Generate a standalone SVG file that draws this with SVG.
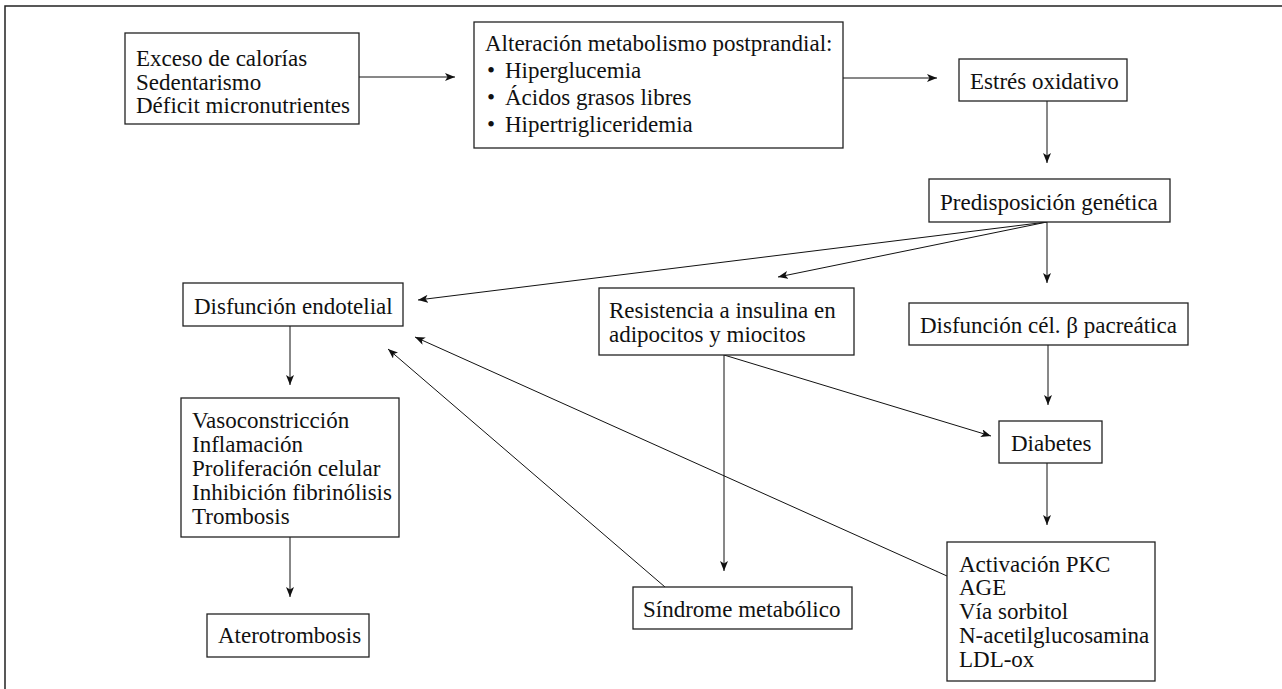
<svg xmlns="http://www.w3.org/2000/svg" width="1282" height="689" viewBox="0 0 1282 689">
<defs>
<style>
.box{fill:#fff;stroke:#222;stroke-width:1.3}
.t{font-family:"Liberation Serif","Times New Roman",serif;font-size:23px;fill:#111}
.c{stroke:#111;stroke-width:1;fill:none}
.a{marker-end:url(#ah)}
</style>
<marker id="ah" viewBox="0 0 10 8" refX="10" refY="4" markerWidth="10" markerHeight="8" markerUnits="userSpaceOnUse" orient="auto">
<path d="M0,0 L10,4 L0,8 L2.5,4 Z" fill="#111"/>
</marker>
</defs>
<rect width="1282" height="689" fill="#fff"/>
<path d="M5,689 V6 H1282" fill="none" stroke="#222" stroke-width="1.5"/>

<g id="connectors">
<line class="c a" x1="359" y1="77" x2="455" y2="77"/>
<line class="c a" x1="843" y1="78" x2="937" y2="78"/>
<line class="c a" x1="1047" y1="101" x2="1047" y2="163"/>
<line class="c a" x1="1047" y1="222" x2="418" y2="300"/>
<line class="c a" x1="1047" y1="222" x2="778" y2="277"/>
<line class="c a" x1="1047" y1="222" x2="1047" y2="283"/>
<line class="c a" x1="290" y1="326" x2="290" y2="385"/>
<line class="c a" x1="724" y1="355" x2="724" y2="571"/>
<line class="c a" x1="724" y1="355" x2="991" y2="436"/>
<line class="c a" x1="1048" y1="345" x2="1048" y2="405"/>
<line class="c a" x1="1047" y1="463" x2="1047" y2="525"/>
<line class="c a" x1="290" y1="537" x2="290" y2="597"/>
<line class="c a" x1="947" y1="576" x2="415" y2="337"/>
<line class="c a" x1="665" y1="587" x2="388" y2="349"/>
</g>

<g id="n-exceso">
<rect class="box" x="125" y="33" width="234" height="91"/>
<text class="t" x="136" y="66">Exceso de calorías</text>
<text class="t" x="136" y="90">Sedentarismo</text>
<text class="t" x="136" y="113">Déficit micronutrientes</text>
</g>

<g id="n-alteracion">
<rect class="box" x="474" y="22" width="369" height="126"/>
<text class="t" x="485" y="51">Alteración metabolismo postprandial:</text>
<text class="t" x="487" y="78">•</text><text class="t" x="505" y="78">Hiperglucemia</text>
<text class="t" x="487" y="105">•</text><text class="t" x="505" y="105">Ácidos grasos libres</text>
<text class="t" x="487" y="132">•</text><text class="t" x="505" y="132">Hipertrigliceridemia</text>
</g>

<g id="n-estres">
<rect class="box" x="959" y="59" width="168" height="42"/>
<text class="t" x="970" y="89">Estrés oxidativo</text>
</g>

<g id="n-predisposicion">
<rect class="box" x="929" y="179" width="241" height="43"/>
<text class="t" x="940" y="210">Predisposición genética</text>
</g>

<g id="n-disf-endotelial">
<rect class="box" x="183" y="283" width="220" height="43"/>
<text class="t" x="194" y="314">Disfunción endotelial</text>
</g>

<g id="n-resistencia">
<rect class="box" x="599" y="288" width="255" height="67"/>
<text class="t" x="609" y="318">Resistencia a insulina en</text>
<text class="t" x="609" y="342">adipocitos y miocitos</text>
</g>

<g id="n-disf-cel">
<rect class="box" x="909" y="303" width="279" height="42"/>
<text class="t" x="920" y="333">Disfunción cél. β pacreática</text>
</g>

<g id="n-vaso">
<rect class="box" x="181" y="398" width="218" height="139"/>
<text class="t" x="192" y="428">Vasoconstricción</text>
<text class="t" x="192" y="452">Inflamación</text>
<text class="t" x="192" y="476">Proliferación celular</text>
<text class="t" x="192" y="500">Inhibición fibrinólisis</text>
<text class="t" x="192" y="524">Trombosis</text>
</g>

<g id="n-diabetes">
<rect class="box" x="999" y="421" width="103" height="42"/>
<text class="t" x="1011" y="451">Diabetes</text>
</g>

<g id="n-activacion">
<rect class="box" x="947" y="542" width="208" height="139"/>
<text class="t" x="959" y="572">Activación PKC</text>
<text class="t" x="959" y="595">AGE</text>
<text class="t" x="959" y="619">Vía sorbitol</text>
<text class="t" x="959" y="643">N-acetilglucosamina</text>
<text class="t" x="959" y="667">LDL-ox</text>
</g>

<g id="n-sindrome">
<rect class="box" x="633" y="587" width="219" height="42"/>
<text class="t" x="643" y="617">Síndrome metabólico</text>
</g>

<g id="n-atero">
<rect class="box" x="207" y="614" width="162" height="43"/>
<text class="t" x="218" y="643">Aterotrombosis</text>
</g>
</svg>
